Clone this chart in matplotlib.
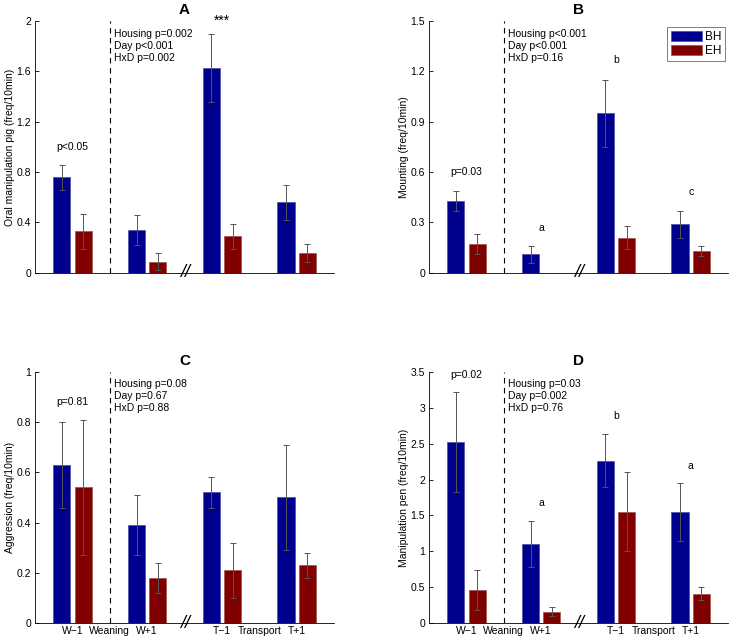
import numpy as np
import matplotlib
matplotlib.use("Agg")
import matplotlib.pyplot as plt

plt.rcParams['font.family'] = ['Liberation Sans', 'DejaVu Sans']

# day positions: W-1, W+1, T-1, T+1
days = [1, 2, 3, 4]
xlabels_pos = [1, 1.5, 2, 3, 3.5, 4]
xlabels = ["W\u22121", "Weaning", "W+1", "T\u22121", "Transport", "T+1"]

# panel A: oral manipulation pig
a_bh = [0.76, 0.34, 1.63, 0.56]
a_bh_err = [0.10, 0.12, 0.27, 0.14]
a_eh = [0.33, 0.09, 0.29, 0.16]
a_eh_err = [0.14, 0.07, 0.10, 0.07]

# panel B: mounting
b_bh = [0.43, 0.11, 0.95, 0.29]
b_bh_err = [0.06, 0.05, 0.20, 0.08]
b_eh = [0.17, 0.0, 0.21, 0.13]
b_eh_err = [0.06, 0.0, 0.07, 0.03]

# panel C: aggression
c_bh = [0.63, 0.39, 0.52, 0.50]
c_bh_err = [0.17, 0.12, 0.06, 0.21]
c_eh = [0.54, 0.18, 0.21, 0.23]
c_eh_err = [0.27, 0.06, 0.11, 0.05]

# panel D: manipulation pen
d_bh = [2.52, 1.10, 2.26, 1.55]
d_bh_err = [0.70, 0.32, 0.37, 0.40]
d_eh = [0.46, 0.16, 1.55, 0.41]
d_eh_err = [0.28, 0.06, 0.55, 0.09]

panels = [
    dict(t="A", bh=a_bh, bhe=a_bh_err, eh=a_eh, ehe=a_eh_err, ymax=2, step=0.4,
         ylab="Oral manipulation pig (freq/10min)",
         stats="Housing p=0.002\nDay p<0.001\nHxD p=0.002",
         notes=[(1, 1.0, "p<0.05"), (3, 2.0, "***")]),
    dict(t="B", bh=b_bh, bhe=b_bh_err, eh=b_eh, ehe=b_eh_err, ymax=1.5, step=0.3,
         ylab="Mounting (freq/10min)",
         stats="Housing p<0.001\nDay p<0.001\nHxD p=0.16",
         notes=[(1, 0.6, "p=0.03"), (2, 0.27, "a"), (3, 1.27, "b"), (4, 0.48, "c")]),
    dict(t="C", bh=c_bh, bhe=c_bh_err, eh=c_eh, ehe=c_eh_err, ymax=1, step=0.2,
         ylab="Aggression (freq/10min)",
         stats="Housing p=0.08\nDay p=0.67\nHxD p=0.88",
         notes=[(1, 0.88, "p=0.81")]),
    dict(t="D", bh=d_bh, bhe=d_bh_err, eh=d_eh, ehe=d_eh_err, ymax=3.5, step=0.5,
         ylab="Manipulation pen (freq/10min)",
         stats="Housing p=0.03\nDay p=0.002\nHxD p=0.76",
         notes=[(1, 3.45, "p=0.02"), (2, 1.67, "a"), (3, 2.88, "b"), (4, 2.19, "a")]),
]

blue = "#00008f"
red = "#800000"
fs = 7.5

fig = plt.figure(figsize=(7.31, 6.39), dpi=100)
rects = [[0.048, 0.573, 0.409, 0.394], [0.587, 0.573, 0.409, 0.394],
         [0.048, 0.025, 0.409, 0.393], [0.587, 0.025, 0.409, 0.393]]

x = np.array(days)
w = 0.23
off = 0.143
for i, p in enumerate(panels):
    ax = fig.add_axes(rects[i])
    ax.bar(x - off, p["bh"], w, color=blue, edgecolor="#4a4aa8", linewidth=0.5, label="BH")
    ax.bar(x + off, p["eh"], w, color=red, edgecolor="#a05050", linewidth=0.5, label="EH")
    bhe = np.array(p["bhe"])
    ehe = np.array(p["ehe"])
    ax.errorbar(x - off, p["bh"], yerr=bhe, fmt="none", ecolor="#555555", elinewidth=0.7,
                capsize=2.5, capthick=0.7)
    m = ehe > 0
    ax.errorbar((x + off)[m], np.array(p["eh"])[m], yerr=ehe[m], fmt="none", ecolor="#555555",
                elinewidth=0.7, capsize=2.5, capthick=0.7)
    ax.set_xlim(0.5, 4.5)
    ax.set_ylim(0, p["ymax"])
    ax.set_yticks(np.arange(0, p["ymax"] + 1e-9, p["step"]))
    ax.yaxis.set_major_formatter(matplotlib.ticker.FormatStrFormatter("%g"))
    ax.tick_params(axis="y", direction="in", length=3, width=0.6, labelsize=fs, pad=3)
    for s in ["top", "right"]:
        ax.spines[s].set_visible(False)
    ax.spines["left"].set_linewidth(0.6)
    ax.spines["bottom"].set_linewidth(0.6)
    if i >= 2:
        ax.set_xticks(xlabels_pos)
        ax.set_xticklabels(xlabels, fontsize=fs)
        ax.tick_params(axis="x", length=0, pad=2)
    else:
        ax.set_xticks([])
    ax.set_ylabel(p["ylab"], fontsize=fs, labelpad=1)
    ax.set_title(p["t"], fontsize=11, fontweight="bold", pad=5)
    ax.axvline(1.5, color="black", linestyle=(0, (5, 4)), linewidth=0.8)
    ax.text(1.56, 0.97, p["stats"], transform=ax.get_xaxis_transform(), fontsize=fs,
            va="top", ha="left", linespacing=1.25)
    ax.text(2.5, 0, "//", fontsize=13, ha="center", va="center", style="italic", clip_on=False)
    for nx, ny, nt in p["notes"]:
        nfs = 10 if nt == "***" else fs
        ax.text(nx, ny, nt, fontsize=nfs, ha="center", va="center", clip_on=False)
    if i == 1:
        leg = ax.legend(loc="upper right", fontsize=8.5, frameon=True, fancybox=False,
                        handlelength=2.6, handleheight=0.9, borderpad=0.3, labelspacing=0.2,
                        handletextpad=0.3, borderaxespad=0, bbox_to_anchor=(0.99, 0.975))
        leg.get_frame().set_edgecolor("#444444")
        leg.get_frame().set_linewidth(0.6)

fig.savefig("out.png", dpi=100)
